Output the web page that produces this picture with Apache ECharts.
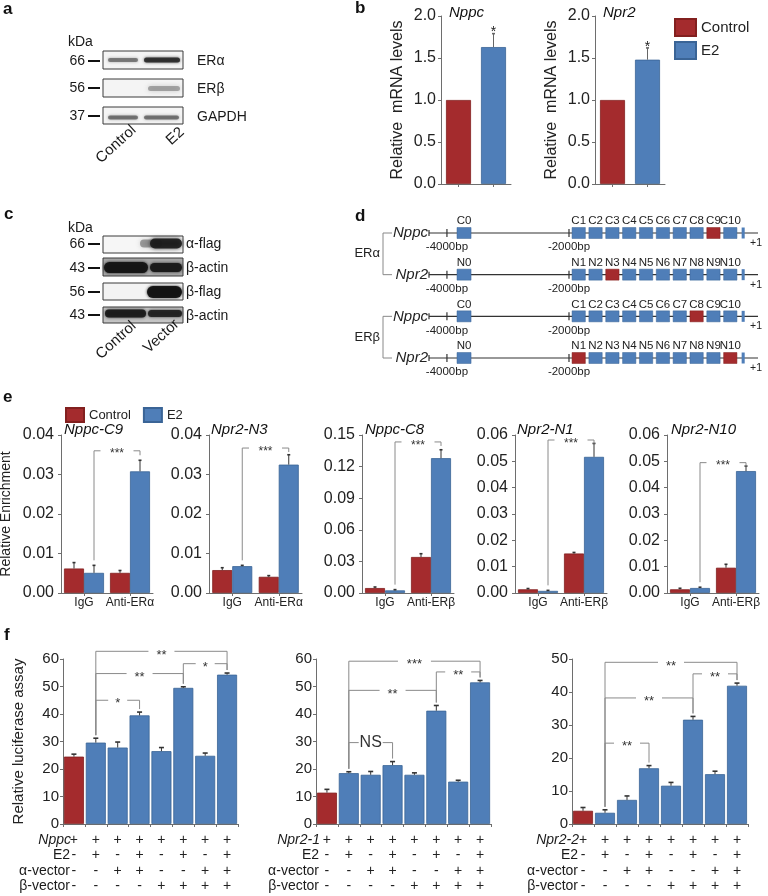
<!DOCTYPE html>
<html><head><meta charset="utf-8">
<script src="https://cdn.jsdelivr.net/npm/echarts@6.0.0/dist/echarts.min.js"></script>
<style>html,body{margin:0;padding:0;background:#fff}#c{width:768px;height:896px}</style>
</head><body><div id="c"></div>
<script>
// ---------------- DATA ----------------
// panel b
const bSeriesNames = ['Control', 'E2'];
const bNppc = [1.00, 1.63];
const bNppcErr = [1.00, 1.79];
const bNpr2 = [1.00, 1.48];
const bNpr2Err = [1.00, 1.62];

// panel e
const eTitles = ['Nppc-C9', 'Npr2-N3', 'Nppc-C8', 'Npr2-N1', 'Npr2-N10'];
const eCatsA = ['IgG', 'Anti-ERα'];
const eCatsB = ['IgG', 'Anti-ERβ'];
const eMax = [0.04, 0.04, 0.15, 0.06, 0.06];
const eInterval = [0.01, 0.01, 0.03, 0.01, 0.01];
const eControl = [[0.0062, 0.0051], [0.0058, 0.0041], [0.0047, 0.0342], [0.0014, 0.0150], [0.0014, 0.0096]];
const eControlErr = [[0.0077, 0.0057], [0.0064, 0.0044], [0.0057, 0.0373], [0.0017, 0.0154], [0.0018, 0.0109]];
const eE2 = [[0.0051, 0.0308], [0.0068, 0.0325], [0.0025, 0.1280], [0.0008, 0.0517], [0.0019, 0.0463]];
const eE2Err = [[0.0070, 0.0336], [0.0070, 0.0350], [0.0032, 0.1360], [0.0010, 0.0568], [0.0022, 0.0482]];
const eSigLevel = [0.0360, 0.0367, 0.1434, 0.0581, 0.0495];
const eSigLabel = ['***', '***', '***', '***', '***'];

// panel f
const fGenes = ['Nppc', 'Npr2-1', 'Npr2-2'];
const fRowNames = ['E2', 'α-vector', 'β-vector'];
const fGeneRow = ['+', '+', '+', '+', '+', '+', '+', '+'];
const fE2Row = ['-', '+', '-', '+', '-', '+', '-', '+'];
const fAlphaRow = ['-', '-', '+', '+', '-', '-', '+', '+'];
const fBetaRow = ['-', '-', '-', '-', '+', '+', '+', '+'];
const fNppc = [24.5, 29.6, 27.8, 39.5, 26.5, 49.5, 24.8, 54.3];
const fNppcErr = [25.4, 31.2, 29.8, 40.7, 27.8, 49.9, 25.8, 54.9];
const fNpr21 = [11.4, 18.5, 17.9, 21.4, 17.9, 41.2, 15.4, 51.5];
const fNpr21Err = [12.6, 19.0, 19.1, 22.7, 18.6, 43.1, 15.9, 52.2];
const fNpr22 = [4.0, 3.4, 7.3, 16.9, 11.6, 31.6, 15.1, 41.9];
const fNpr22Err = [5.0, 4.3, 8.5, 17.7, 12.6, 32.6, 16.0, 42.7];
const fMax = [60, 60, 50];
const fBrackets = [
  [[1, 3, 45.0], [1, 5, 54.7], [5, 7, 58.3], [1, 7, 62.8]],
  [[1, 3, 29.6], [1, 5, 48.6], [5, 7, 55.3], [1, 7, 59.2]],
  [[1, 3, 24.5], [1, 5, 38.2], [5, 7, 45.5], [1, 7, 49.0]]
];
const fBracketLabels = [
  ['*', '**', '*', '**'],
  ['NS', '**', '**', '***'],
  ['**', '**', '**', '**']
];

// panel d (promoter schematic, positions in bp)
const dGenes = ['Nppc', 'Npr2', 'Nppc', 'Npr2'];
const dPrefix = ['C', 'N', 'C', 'N'];
const dReceptor = ['ERα', '', 'ERβ', ''];
const dHits = [[9], [3], [8], [1, 10]];
const dSiteStart = [-3835, -1950, -1674, -1398, -1122, -846, -570, -294, -18, 258, 534];
const dSiteWidth = [230, 218, 218, 218, 218, 218, 218, 218, 218, 218, 218];
const dMarks = [-4000, -2000];
const dMarkLabels = ['-4000bp', '-2000bp'];
const dLineStart = -4294, dLineEnd = 1097, dTss = 829, dTssWidth = 50;

// ---------------- STYLE ----------------
const RED = '#a42b2d', BLUE = '#4f7eb8', RED_B = '#82201f', BLUE_B = '#3a6496';
const FONT = '"Liberation Sans", Arial, Helvetica, sans-serif';
const AX = '#6e6e6e';
const ctrlStyle = { color: RED, borderColor: RED_B, borderWidth: 0.8 };
const e2Style = { color: BLUE, borderColor: BLUE_B, borderWidth: 0.8 };

const grids = [], xAxes = [], yAxes = [], series = [];
function addGrid(g) { grids.push(Object.assign({ containLabel: false, outerBoundsMode: 'none' }, g)); return grids.length - 1; }

function yVal(gi, max, interval, dec, fs, margin, name, nameGap, nameSize) {
  yAxes.push({
    gridIndex: gi, type: 'value', min: 0, max: max, interval: interval,
    axisLine: { show: true, lineStyle: { color: AX, width: 1 } },
    axisTick: { show: true, length: 3, lineStyle: { color: AX } },
    splitLine: { show: false },
    axisLabel: { fontSize: fs, color: '#222', margin: margin, fontFamily: FONT, formatter: v => v.toFixed(dec) },
    name: name || '', nameLocation: 'middle', nameGap: nameGap || 0,
    nameTextStyle: { fontSize: nameSize || 12, color: '#222', fontFamily: FONT }
  });
  return yAxes.length - 1;
}
function xCat(gi, cats, labelOpt, tickAlign) {
  xAxes.push({
    gridIndex: gi, type: 'category', data: cats,
    axisLine: { show: true, lineStyle: { color: AX, width: 1 } },
    axisTick: { show: true, length: 3, alignWithLabel: !!tickAlign, lineStyle: { color: AX } },
    axisLabel: Object.assign({ interval: 0, color: '#222', fontFamily: FONT }, labelOpt)
  });
  return xAxes.length - 1;
}

function errSeries(xi, yi, items, offset, cap, color, starTexts) {
  return {
    type: 'custom', xAxisIndex: xi, yAxisIndex: yi, clip: false, z: 6, silent: true,
    data: items, encode: { x: 0, y: [1, 2] },
    renderItem: (params, api) => {
      const i = api.value(0), v = api.value(1), t = api.value(2);
      const pb = api.coord([i, v]), pt = api.coord([i, t]);
      const x = pb[0] + offset;
      const ch = [
        { type: 'line', shape: { x1: x, y1: pb[1], x2: x, y2: pt[1] }, style: { stroke: color, lineWidth: 1 } },
        { type: 'line', shape: { x1: x - cap, y1: pt[1], x2: x + cap, y2: pt[1] }, style: { stroke: color, lineWidth: 1.6 } }
      ];
      if (starTexts && starTexts[params.dataIndex]) {
        ch.push({ type: 'text', x: x, y: pt[1] - 1, style: { text: starTexts[params.dataIndex], fontSize: 14, fontFamily: FONT, fill: '#222', align: 'center', verticalAlign: 'middle' } });
      }
      return { type: 'group', children: ch };
    }
  };
}

function bracketSeries(xi, yi, items, labels, tops, offset, gap, fs, lineColor) {
  return {
    type: 'custom', xAxisIndex: xi, yAxisIndex: yi, clip: false, z: 7, silent: true,
    data: items, encode: { x: [0, 1], y: 2 },
    renderItem: (params, api) => {
      const c1 = api.value(0), c2 = api.value(1), lv = api.value(2);
      const pL = api.coord([c1, lv]);
      const x1 = pL[0] + offset, x2 = api.coord([c2, lv])[0] + offset, yL = pL[1];
      const y1 = Math.max(api.coord([c1, tops[c1]])[1] - gap, yL + 4);
      const y2 = Math.max(api.coord([c2, tops[c2]])[1] - gap, yL + 4);
      const lbl = labels[params.dataIndex];
      const isStar = lbl.indexOf('*') >= 0;
      const size = isStar ? fs : fs + 3;
      return {
        type: 'group', children: [
          { type: 'polyline', shape: { points: [[x1, y1], [x1, yL], [x2, yL], [x2, y2]] }, style: { stroke: lineColor, lineWidth: 1, fill: null } },
          { type: 'rect', shape: { x: (x1 + x2) / 2 - (isStar ? lbl.length * 3.5 + 6 : 12), y: yL - 2, width: (isStar ? lbl.length * 7 + 12 : 24), height: 4 }, style: { fill: '#fff' } },
          { type: 'text', x: (x1 + x2) / 2, y: yL + (isStar ? size * 0.28 : 0), style: { text: lbl, fontSize: size, fontFamily: FONT, fill: '#333', align: 'center', verticalAlign: 'middle' } }
        ]
      };
    }
  };
}

// ---------------- PANEL b ----------------
const bDefs = [
  { left: 441, vals: bNppc, errs: bNppcErr, name: 'Relative  mRNA levels' },
  { left: 595, vals: bNpr2, errs: bNpr2Err, name: 'Relative  mRNA levels' }
];
bDefs.forEach((d, k) => {
  const gi = addGrid({ left: d.left, top: 16, width: 70, height: 168 });
  const xi = xCat(gi, bSeriesNames, { show: false }, true);
  const yi = yVal(gi, 2, 0.5, 1, 16, 5, d.name, 35, 16);
  series.push({ name: 'Control', type: 'bar', xAxisIndex: xi, yAxisIndex: yi, stack: 'b' + k, barWidth: 25, data: [d.vals[0], '-'], itemStyle: ctrlStyle });
  series.push({ name: 'E2', type: 'bar', xAxisIndex: xi, yAxisIndex: yi, stack: 'b' + k, barWidth: 25, data: ['-', d.vals[1]], itemStyle: e2Style });
  series.push(errSeries(xi, yi, [[1, d.vals[1], d.errs[1]]], 0, 1.5, '#666', ['*']));
});

// ---------------- PANEL e ----------------
const eLefts = [61, 209, 362, 515, 667];
const eWidths = [92, 93, 92, 92, 92];
const eTitleLeft = [64, 211, 365, 517, 671];
eTitles.forEach((t, k) => {
  const gi = addGrid({ left: eLefts[k], top: 435, width: eWidths[k], height: 158 });
  const xi = xCat(gi, k < 2 ? eCatsA : eCatsB, { fontSize: 12, margin: 4 }, true);
  const yi = yVal(gi, eMax[k], eInterval[k], 2, 16, 7, k === 0 ? 'Relative Enrichment' : '', 48, 14);
  series.push({ name: 'Control', type: 'bar', xAxisIndex: xi, yAxisIndex: yi, barWidth: 20, barGap: '0%', data: eControl[k], itemStyle: ctrlStyle });
  series.push({ name: 'E2', type: 'bar', xAxisIndex: xi, yAxisIndex: yi, barWidth: 20, barGap: '0%', data: eE2[k], itemStyle: e2Style });
  series.push(errSeries(xi, yi, eControl[k].map((v, i) => [i, v, eControlErr[k][i]]), -10, 1.5, '#333'));
  series.push(errSeries(xi, yi, eE2[k].map((v, i) => [i, v, eE2Err[k][i]]), 10, 1.5, '#333'));
  series.push(bracketSeries(xi, yi, [[0, 1, eSigLevel[k]]], [eSigLabel[k]], eE2Err[k], 10, 5, 12, '#8a8a8a'));
});

// ---------------- PANEL f ----------------
const fLefts = [63, 316, 572];
const fWidths = [175, 175, 176];
const fVals = [fNppc, fNpr21, fNpr22];
const fErrs = [fNppcErr, fNpr21Err, fNpr22Err];
fVals.forEach((vals, k) => {
  const gi = addGrid({ left: fLefts[k], top: 659, width: fWidths[k], height: 165 });
  const xi = xCat(gi, vals.map((v, i) => 'c' + i), {
    fontSize: 14, margin: 8, lineHeight: 15.5,
    formatter: (v, i) => [fGeneRow[i], fE2Row[i], fAlphaRow[i], fBetaRow[i]].join('\n')
  }, false);
  const yi = yVal(gi, fMax[k], 10, 0, 15, 4, k === 0 ? 'Relative luciferase assay' : '', 37, 15);
  series.push({
    name: fGenes[k], type: 'bar', xAxisIndex: xi, yAxisIndex: yi, barWidth: 20,
    data: vals.map((v, i) => ({ value: v, itemStyle: i === 0 ? ctrlStyle : e2Style }))
  });
  series.push(errSeries(xi, yi, vals.map((v, i) => [i, v, fErrs[k][i]]), 0, 2.5, '#333'));
  series.push(bracketSeries(xi, yi, fBrackets[k], fBracketLabels[k], fErrs[k], 0, 3, 13, '#8a8a8a'));
});

// ---------------- PANEL d ----------------
{
  const gi = addGrid({ left: 429, top: 233, width: 329, height: 125 });
  xAxes.push({ gridIndex: gi, type: 'value', min: dLineStart, max: dLineEnd, show: false });
  yAxes.push({ gridIndex: gi, type: 'value', min: 0, max: 3, inverse: true, show: false });
  const xi = xAxes.length - 1, yi = yAxes.length - 1;
  series.push({
    type: 'custom', xAxisIndex: xi, yAxisIndex: yi, clip: false, silent: true,
    data: dGenes.map((g, i) => [dLineStart, i]), encode: { x: 0, y: 1 },
    renderItem: (params, api) => {
      const row = api.value(1);
      const y = api.coord([0, row])[1];
      const X = bp => api.coord([bp, row])[0];
      const lineStyle = { stroke: '#333', lineWidth: 1.2 };
      const txt = (x, yy, t, opt) => ({ type: 'text', x: x, y: yy, style: Object.assign({ text: t, fontSize: 11.5, fontFamily: FONT, fill: '#222', align: 'center', verticalAlign: 'middle' }, opt || {}) });
      const ch = [];
      ch.push({ type: 'line', shape: { x1: X(dLineStart), y1: y, x2: X(dLineEnd), y2: y }, style: lineStyle });
      ch.push({ type: 'line', shape: { x1: X(dLineStart), y1: y - 3, x2: X(dLineStart), y2: y + 3 }, style: lineStyle });
      dMarks.forEach((m, j) => {
        ch.push({ type: 'line', shape: { x1: X(m), y1: y - 4, x2: X(m), y2: y + 4 }, style: lineStyle });
        ch.push(txt(X(m), y + 14, dMarkLabels[j], { fontSize: 11.5 }));
      });
      dSiteStart.forEach((s, j) => {
        const hit = dHits[row].indexOf(j) >= 0;
        const x0 = X(s), x1 = X(s + dSiteWidth[j]);
        ch.push({ type: 'rect', shape: { x: x0, y: y - 5.5, width: x1 - x0, height: 11 }, style: { fill: hit ? RED : BLUE, stroke: hit ? RED_B : BLUE_B, lineWidth: 0.5 } });
        ch.push(txt((x0 + x1) / 2, y - 12, dPrefix[row] + j));
      });
      const t0 = X(dTss), t1 = X(dTss + dTssWidth);
      ch.push({ type: 'rect', shape: { x: t0, y: y - 5.5, width: t1 - t0, height: 11 }, style: { fill: BLUE } });
      ch.push(txt(X(dLineEnd) - 8, y + 10, '+1', { align: 'left', fontSize: 10.5 }));
      ch.push(txt(X(dLineStart) - 1, y, dGenes[row], { align: 'right', fontSize: 15, fontStyle: 'italic' }));
      ch.push({ type: 'line', shape: { x1: X(dLineStart) - 46, y1: y, x2: X(dLineStart) - 37, y2: y }, style: { stroke: '#888', lineWidth: 1 } });
      if (dReceptor[row]) {
        const yn = api.coord([0, row + 1])[1];
        ch.push({ type: 'line', shape: { x1: X(dLineStart) - 46, y1: y, x2: X(dLineStart) - 46, y2: yn }, style: { stroke: '#888', lineWidth: 1 } });
        ch.push(txt(X(dLineStart) - 49, (y + yn) / 2, dReceptor[row], { align: 'right', fontSize: 13 }));
      }
      return { type: 'group', children: ch };
    }
  });
}

// ---------------- Western blots & table labels (graphic) ----------------
const G = [];
function T(x, y, text, o) { G.push({ type: 'text', x: x, y: y, rotation: (o && o.rot) || 0, style: { text: text, fontSize: (o && o.fs) || 14, fontStyle: (o && o.it) ? 'italic' : 'normal', fontFamily: FONT, fill: '#1a1a1a', align: (o && o.al) || 'left', verticalAlign: 'middle' } }); }
function box(x, y, w, h, fill) { G.push({ type: 'rect', shape: { x: x, y: y, width: w, height: h }, style: { fill: fill, stroke: '#3a3a3a', lineWidth: 1 } }); }
function band(x, y, w, h, color, blur) { G.push({ type: 'rect', shape: { x: x, y: y, width: w, height: h, r: h / 2 }, style: { fill: color, shadowBlur: blur, shadowColor: color } }); }
function mark(y, label) { T(85, y, label, { al: 'right', fs: 14 }); G.push({ type: 'line', shape: { x1: 88, y1: y, x2: 100, y2: y }, style: { stroke: '#111', lineWidth: 2 } }); }

// panel a
T(68, 42, 'kDa', { fs: 14 });
mark(61, '66'); mark(88, '56'); mark(116, '37');
box(103, 51, 80, 18, '#f4f4f4');
band(108, 58, 30, 4, 'rgba(90,90,90,0.7)', 3);
band(144, 57.5, 36, 5, 'rgba(35,35,35,0.85)', 3);
box(103, 79, 80, 18, '#f4f4f4');
band(148, 86, 32, 5, 'rgba(110,110,110,0.55)', 5);
box(103, 107, 80, 17, '#f4f4f4');
band(108, 115.5, 30, 4, 'rgba(80,80,80,0.7)', 3);
band(144, 115.5, 35, 4, 'rgba(80,80,80,0.7)', 3);
T(197, 61, 'ERα', { fs: 14 }); T(197, 89, 'ERβ', { fs: 14 }); T(197, 117, 'GAPDH', { fs: 14 });
T(134, 128, 'Control', { al: 'right', rot: 0.74, fs: 15 });
T(182, 130, 'E2', { al: 'right', rot: 0.74, fs: 15 });

// panel c
T(68, 228, 'kDa', { fs: 14 });
mark(244, '66'); mark(268, '43'); mark(292, '56'); mark(315, '43');
box(103, 236, 80, 17, '#f6f6f6');
band(140, 239.5, 22, 8, 'rgba(60,60,60,0.45)', 5);
band(150, 238.5, 32, 10, 'rgba(25,25,25,0.9)', 4);
box(103, 258, 80, 18, '#a8a8a8');
band(104, 262, 44, 11, 'rgba(20,20,20,0.95)', 3);
band(150, 263, 32, 9, 'rgba(25,25,25,0.95)', 3);
box(103, 283, 80, 17, '#f3f3f3');
band(147, 286, 35, 12, 'rgba(18,18,18,0.95)', 3);
box(103, 307, 80, 16, '#c4c4c4');
band(105, 309.5, 41, 8, 'rgba(25,25,25,0.92)', 3);
band(148, 310, 34, 7, 'rgba(30,30,30,0.9)', 3);
T(186, 244, 'α-flag', { fs: 14 }); T(186, 268, 'β-actin', { fs: 14 }); T(186, 292, 'β-flag', { fs: 14 }); T(186, 316, 'β-actin', { fs: 14 });
T(134, 324, 'Control', { al: 'right', rot: 0.74, fs: 15 });
T(177, 322, 'Vector', { al: 'right', rot: 0.74, fs: 15 });

// panel f row labels
const fLabelRight = [70, 319, 578];
const rowY = [839.75, 855.25, 870.75, 886.25];
fGenes.forEach((g, k) => {
  T(fLabelRight[k] + 1, rowY[0], g, { al: 'right', it: true, fs: 14 });
  fRowNames.forEach((r, j) => T(fLabelRight[k], rowY[j + 1], r, { al: 'right', fs: 14 }));
});

// ---------------- OPTION ----------------
const letter = (t, l, tp) => ({ text: t, left: l, top: tp, padding: 0, textStyle: { fontSize: 17, fontWeight: 'bold', color: '#111', fontFamily: FONT } });
const ital = (t, l, tp) => ({ text: t, left: l, top: tp, padding: 0, textStyle: { fontSize: 15, fontStyle: 'italic', fontWeight: 'normal', color: '#111', fontFamily: FONT } });
const titles = [letter('a', 3, 1), letter('b', 355, 0), letter('c', 4, 206), letter('d', 355, 208), letter('e', 3, 389), letter('f', 4, 627),
  ital('Nppc', 449, 5), ital('Npr2', 603, 5)];
eTitles.forEach((t, k) => titles.push(ital(t, eTitleLeft[k], 422)));

const option = {
  backgroundColor: '#fff',
  animation: false,
  textStyle: { fontFamily: FONT },
  title: titles,
  legend: [
    { data: bSeriesNames, left: 669, top: 13, orient: 'vertical', icon: 'rect', itemWidth: 21, itemHeight: 17, itemGap: 4, selectedMode: false, textStyle: { fontSize: 15, color: '#222', fontFamily: FONT } },
    { data: bSeriesNames, left: 60, top: 402, orient: 'horizontal', icon: 'rect', itemWidth: 18, itemHeight: 14, itemGap: 12, selectedMode: false, textStyle: { fontSize: 13, color: '#222', fontFamily: FONT } }
  ],
  grid: grids, xAxis: xAxes, yAxis: yAxes, series: series,
  graphic: G
};
const chart = echarts.init(document.getElementById('c'), null, { renderer: 'canvas' });
chart.setOption(option);
</script></body></html>
